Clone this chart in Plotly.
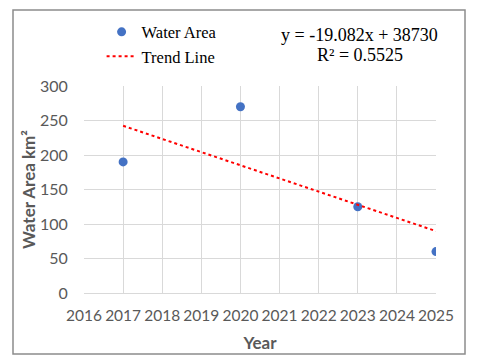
import numpy as np
import plotly.graph_objects as go

## ----------- data ----------- ##
YEARS = [2017, 2020, 2023, 2025]
WATER_AREA = [190, 270, 125, 60]
X_TICKS = [2016, 2017, 2018, 2019, 2020, 2021, 2022, 2023, 2024, 2025]
Y_TICKS = [0, 50, 100, 150, 200, 250, 300]

GREY = "#595959"
SERIF = "Liberation Serif"
SANS = "Lato"

# linear trend, same as the excel trendline
slope, intercept = np.polyfit(YEARS, WATER_AREA, 1)
r2 = np.corrcoef(YEARS, WATER_AREA)[0, 1] ** 2
trend_x = [min(YEARS), max(YEARS)]
trend_y = [slope * x + intercept for x in trend_x]

fig = go.Figure()
fig.add_trace(
    go.Scatter(
        x=YEARS,
        y=WATER_AREA,
        mode="markers",
        name="Water Area",
        marker=dict(color="#4472C4", size=9),
    )
)
fig.add_trace(
    go.Scatter(
        x=trend_x,
        y=trend_y,
        mode="lines",
        name="Trend Line",
        line=dict(color="#FF0000", dash="dot", width=2),
    )
)

# trendline equation, two lines kept separate to control spacing
for txt, ypos in [(f"y = {slope:.3f}x + {intercept:.0f}", 1.246), (f"R² = {r2:.4f}", 1.150)]:
    fig.add_annotation(
        xref="paper", yref="paper",
        x=0.784, y=ypos, xanchor="center", yanchor="middle",
        text=txt,
        showarrow=False,
        font=dict(family=SERIF, size=18, color="black"),
    )

# outer chart frame
fig.add_shape(
    type="rect", xref="paper", yref="paper",
    x0=-0.2017, x1=1.0824, y0=-0.2947, y1=1.367,
    line=dict(color="#8c8c8c", width=1.5),
    fillcolor="rgba(0,0,0,0)",
)

# page body has an 8px margin, so the figure is 8px smaller and shifted
fig.update_layout(
    width=472,
    height=355,
    margin=dict(l=76, r=44, t=78, b=70, autoexpand=False),
    plot_bgcolor="white",
    paper_bgcolor="white",
    showlegend=True,
    legend=dict(
        x=0.05, y=1.345, xanchor="left", yanchor="top",
        font=dict(family=SERIF, size=16.5, color="black"),
        bgcolor="rgba(0,0,0,0)",
        tracegroupgap=0,
    ),
    xaxis=dict(
        range=[2016, 2025],
        tickvals=X_TICKS,
        tickangle=0,
        tickfont=dict(family=SANS, size=15.5, color=GREY),
        showgrid=True, gridcolor="#d9d9d9", gridwidth=1,
        zeroline=False,
        showline=True, linecolor="#d9d9d9", linewidth=1,
        ticklabelstandoff=8,
        title=dict(text="<b>Year</b>", font=dict(family=SANS, size=17, color=GREY), standoff=14),
    ),
    yaxis=dict(
        range=[0, 300],
        tickvals=Y_TICKS,
        tickfont=dict(family=SANS, size=16, color=GREY),
        showgrid=True, gridcolor="#d9d9d9", gridwidth=1,
        zeroline=False,
        showline=False,
        ticks="outside", ticklen=12, tickcolor="rgba(0,0,0,0)",
        title=dict(text="<b>Water Area km²</b>", font=dict(family=SANS, size=17, color=GREY), standoff=0),
    ),
)

fig.write_html("out.html")
